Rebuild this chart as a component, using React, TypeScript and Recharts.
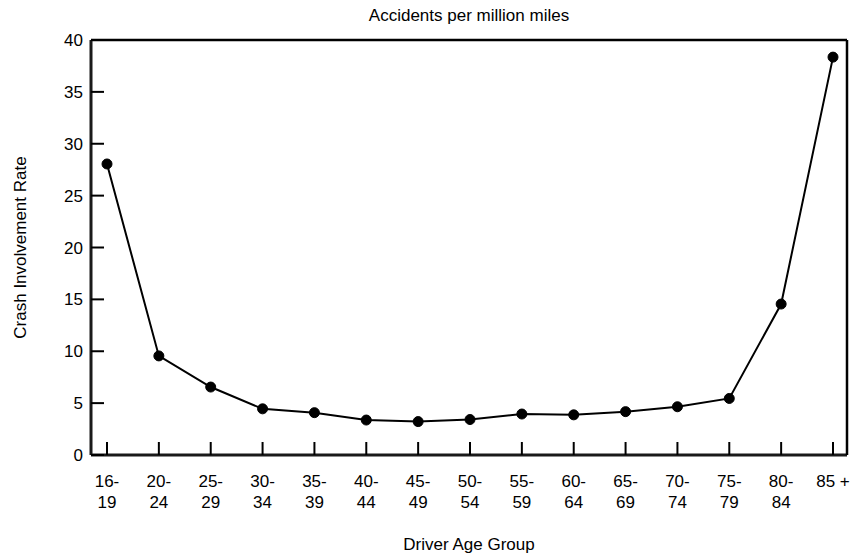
import { Label, Line, LineChart, XAxis, YAxis } from 'recharts';

const ageGroups = [
  '16-19',
  '20-24',
  '25-29',
  '30-34',
  '35-39',
  '40-44',
  '45-49',
  '50-54',
  '55-59',
  '60-64',
  '65-69',
  '70-74',
  '75-79',
  '80-84',
  '85 +',
];

const crashRates = [
  28.05, 9.55, 6.55, 4.45, 4.08, 3.37, 3.22, 3.42, 3.95, 3.87, 4.18, 4.65, 5.45,
  14.55, 38.35,
];

const yTicks = [0, 5, 10, 15, 20, 25, 30, 35, 40];

const fontFamily = '"Liberation Sans", Arial, sans-serif';
const fontSize = 17;
const inwardTick = 13;
// recharts default tickSize (6) + tickMargin (2)
const tickGap = 8;

const chartData = ageGroups.map((group, i) => ({ group, rate: crashRates[i] }));

function AgeTick(props: any) {
  const { x, y, payload } = props;
  const axisY = y - tickGap;
  const value: string = payload.value;
  const parts = value.endsWith('+') ? [value] : [value.split('-')[0] + '-', value.split('-')[1]];
  return (
    <g>
      <line x1={x} y1={axisY} x2={x} y2={axisY - inwardTick} stroke="#000" strokeWidth={2} />
      {parts.map((part, i) => (
        <text
          key={i}
          x={x}
          y={axisY + 32 + i * 21}
          textAnchor="middle"
          fontSize={fontSize}
          fontFamily={fontFamily}
          fill="#000"
        >
          {part}
        </text>
      ))}
    </g>
  );
}

function RateTick(props: any) {
  const { x, y, payload } = props;
  const axisX = x + tickGap;
  return (
    <g>
      <line x1={axisX} y1={y} x2={axisX + inwardTick} y2={y} stroke="#000" strokeWidth={2} />
      <text
        x={axisX - 8}
        y={y}
        dy="0.36em"
        textAnchor="end"
        fontSize={fontSize}
        fontFamily={fontFamily}
        fill="#000"
      >
        {payload.value}
      </text>
    </g>
  );
}

export default function App() {
  const labelStyle = { fontSize, fontFamily, fill: '#000' };

  return (
    <div style={{ position: 'absolute', left: 0, top: 0, width: 860, height: 556, background: '#fff' }}>
      <LineChart
        width={860}
        height={556}
        data={chartData}
        margin={{ top: 39, right: 12, bottom: 0, left: 0 }}
      >
        <XAxis
          dataKey="group"
          height={101}
          interval={0}
          padding={{ left: 16, right: 14 }}
          axisLine={{ stroke: '#1a1a1a', strokeWidth: 3 }}
          tickLine={false}
          tick={<AgeTick />}
        >
          <Label
            value="Driver Age Group"
            position="insideBottom"
            offset={6}
            style={labelStyle}
          />
        </XAxis>
        <XAxis
          xAxisId="top"
          dataKey="group"
          orientation="top"
          height={1}
          padding={{ left: 16, right: 14 }}
          axisLine={{ stroke: '#000', strokeWidth: 2.5 }}
          tickLine={false}
          tick={false}
        >
          <Label
            value="Accidents per million miles"
            position="top"
            offset={18}
            style={labelStyle}
          />
        </XAxis>
        <YAxis
          width={91}
          domain={[0, 40]}
          ticks={yTicks}
          interval={0}
          axisLine={{ stroke: '#1a1a1a', strokeWidth: 3 }}
          tickLine={false}
          tick={<RateTick />}
        >
          <Label
            value="Crash Involvement Rate"
            angle={-90}
            position="insideLeft"
            offset={20}
            style={{ ...labelStyle, textAnchor: 'middle' }}
          />
        </YAxis>
        <YAxis
          yAxisId="right"
          orientation="right"
          width={1}
          domain={[0, 40]}
          axisLine={{ stroke: '#000', strokeWidth: 2.5 }}
          tickLine={false}
          tick={false}
        />
        <Line
          type="linear"
          dataKey="rate"
          stroke="#000"
          strokeWidth={2}
          dot={{ r: 5, fill: '#000', stroke: '#000', strokeWidth: 1 }}
          isAnimationActive={false}
        />
      </LineChart>
    </div>
  );
}
